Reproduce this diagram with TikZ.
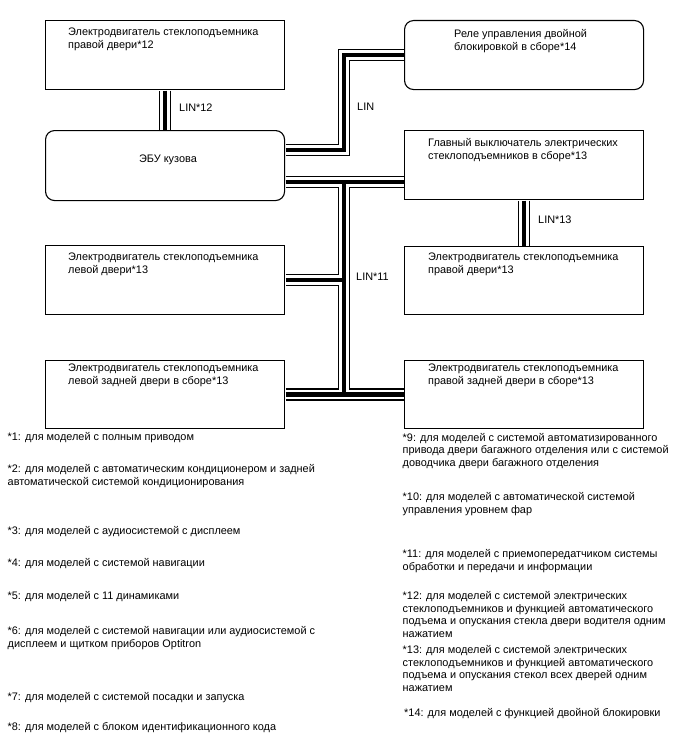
\documentclass[tikz,border=0pt]{standalone}
\usepackage{fontspec}
\setmainfont{Liberation Sans}

\begin{document}
\begin{tikzpicture}[x=1bp, y=-1bp, font=\fontsize{10.9bp}{12.9bp}\selectfont,
    every node/.style={align=left},
    blok/.style={draw, line width=1.1bp, minimum width=239bp, minimum height=69bp, anchor=north west, inner sep=0},
    rblok/.style={blok, rounded corners=9bp},
    txt/.style={anchor=base west, inner sep=0}]
    \useasboundingbox (0,0) rectangle (688,755);

    % blocks
    \node[blok] (mA) at (45,20) {};
    \node[rblok, minimum height=70bp] (ecu) at (45,130) {};
    \node[rblok] (rel) at (404,20) {};
    \node[blok] (msw) at (404,130) {};
    \node[blok, minimum height=68bp] (mR) at (404,246) {};
    \node[blok] (mL) at (45,245) {};
    \node[blok, minimum height=68bp] (mLR) at (45,360) {};
    \node[blok, minimum height=68bp] (mRR) at (404,360) {};

    % texts (base = last line)
    \node[txt] (tA) at (68,48.8) {Электродвигатель стеклоподъемника\\правой двери*12};
    \node[txt, anchor=base] (tecu) at (168,162.8) {ЭБУ кузова};
    \node[txt] (trel) at (454,50.8) {Реле управления двойной\\блокировкой в сборе*14};
    \node[txt] (tmsw) at (428,159.8) {Главный выключатель электрических\\стеклоподъемников в сборе*13};
    \node[txt] (tmR) at (428,273.8) {Электродвигатель стеклоподъемника\\правой двери*13};
    \node[txt] (tmL) at (68,273.8) {Электродвигатель стеклоподъемника\\левой двери*13};
    \node[txt] (tmLR) at (68,384.8) {Электродвигатель стеклоподъемника\\левой задней двери в сборе*13};
    \node[txt] (tmRR) at (428,384.8) {Электродвигатель стеклоподъемника\\правой задней двери в сборе*13};

    % LIN lines
    \coordinate (bu) at (344,55);
    \coordinate (bm) at (344,150);
    \coordinate (bt) at (344,182);
    \foreach \w/\c in {12.5bp/black, 9.5bp/white, 4.5bp/black} {
        \draw[line width=\w, draw=\c, shorten <=0.5bp, shorten >=0.5bp] (mA.south) -- (ecu.north);
        \draw[line width=\w, draw=\c, shorten <=0.5bp, shorten >=0.5bp] (bm -| ecu.east) -- (bm) -- (bu) -- (bu -| rel.west);
        \draw[line width=\w, draw=\c, shorten <=0.5bp, shorten >=0.5bp] (bt -| ecu.east) -- (bt -| msw.west);
        \draw[line width=\w, draw=\c] (bt) -- (bt |- mLR.east);
        \draw[line width=\w, draw=\c, shorten <=0.5bp] (mL.east) -- (mL.east -| bt);
        \draw[line width=\w, draw=\c, shorten <=0.5bp, shorten >=0.5bp] (mLR.east) -- (mRR.west);
        \draw[line width=\w, draw=\c, shorten <=0.5bp, shorten >=0.5bp] (msw.south) -- (mR.north);
    }
    \node[txt] (l12) at (179,111.8) {LIN*12};
    \node[txt] (lrel) at (357,110.8) {LIN};
    \node[txt] (l13) at (538,223.8) {LIN*13};
    \node[txt] (l11) at (356,280.8) {LIN*11};

    % notes
    \node[txt] (n1) at (7.5,440.8) {*1: для моделей с полным приводом};
    \node[txt] (n2) at (7.5,485.8) {*2: для моделей с автоматическим кондиционером и задней\\автоматической системой кондиционирования};
    \node[txt] (n3) at (7.5,534.8) {*3: для моделей с аудиосистемой с дисплеем};
    \node[txt] (n4) at (7.5,566.8) {*4: для моделей с системой навигации};
    \node[txt] (n5) at (7.5,599.8) {*5: для моделей с 11 динамиками};
    \node[txt] (n6) at (7.5,647.8) {*6: для моделей с системой навигации или аудиосистемой с\\дисплеем и щитком приборов Optitron};
    \node[txt] (n7) at (7.5,700.8) {*7: для моделей с системой посадки и запуска};
    \node[txt] (n8) at (7.5,730.8) {*8: для моделей с блоком идентификационного кода};

    \node[txt] (n9) at (402.5,466.8) {*9: для моделей с системой автоматизированного\\привода двери багажного отделения или с системой\\доводчика двери багажного отделения};
    \node[txt] (n10) at (402.5,513.8) {*10: для моделей с автоматической системой\\управления уровнем фар};
    \node[txt] (n11) at (402.5,570.8) {*11: для моделей с приемопередатчиком системы\\обработки и передачи и информации};
    \node[txt] (n12) at (402.5,637.8) {*12: для моделей с системой электрических\\стеклоподъемников и функцией автоматического\\подъема и опускания стекла двери водителя одним\\нажатием};
    \node[txt] (n13) at (402.5,691.8) {*13: для моделей с системой электрических\\стеклоподъемников и функцией автоматического\\подъема и опускания стекол всех дверей одним\\нажатием};
    \node[txt] (n14) at (404,716.8) {*14: для моделей с функцией двойной блокировки};
\end{tikzpicture}
\end{document}
